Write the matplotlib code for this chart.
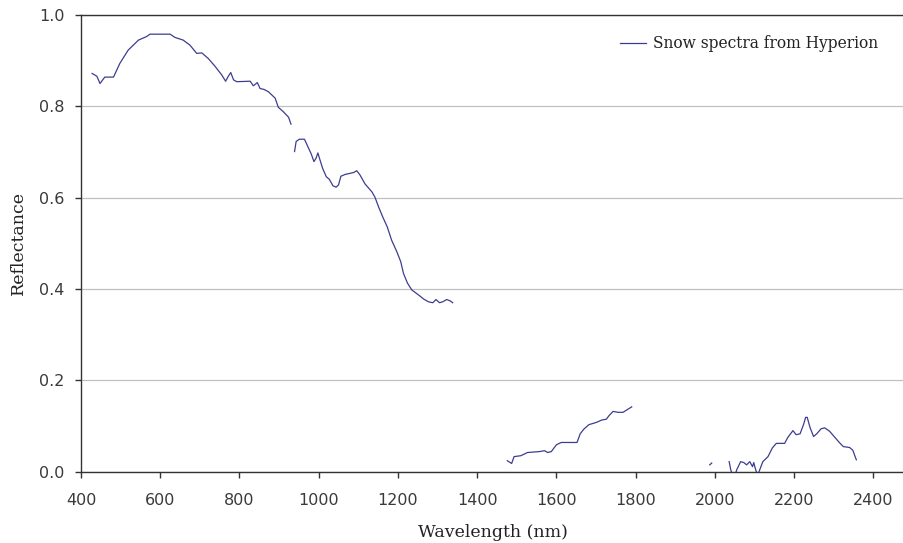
import numpy as np
import matplotlib
matplotlib.use("Agg")
import matplotlib.pyplot as plt
from matplotlib.ticker import FormatStrFormatter

nan = np.nan

# Hyperion snow spectrum, NaN marks the water absorption gaps
wavelength = [
    428, 440, 448, 460, 482, 498, 519, 545, 566, 574, 600, 625, 637, 658, 675,
    692, 705, 721, 738, 755, 765, 772, 778, 785, 793, 827, 835, 845, 852, 862,
    873, 890, 898, 911, 924, 930,
    934,
    939, 943, 951, 964, 971, 981, 988, 993, 998, 1002, 1010, 1019, 1027, 1036,
    1044, 1050, 1056, 1067, 1088, 1096, 1104, 1117, 1134, 1142, 1151, 1162,
    1173, 1184, 1197, 1207, 1214, 1224, 1235, 1252, 1265, 1277, 1288, 1296,
    1305, 1313, 1323, 1332, 1338,
    1400,
    1476, 1487, 1493, 1510, 1527, 1557, 1570, 1578, 1587, 1600, 1612, 1652,
    1660, 1669, 1682, 1701, 1714, 1726, 1733, 1743, 1756, 1768, 1781, 1790,
    1900,
    1987, 1992,
    2010,
    2036, 2040, 2046, 2050, 2055, 2065, 2073, 2080, 2088, 2095, 2098, 2103,
    2108, 2113, 2117, 2121, 2134, 2145, 2155, 2176, 2184, 2197, 2205, 2215,
    2224, 2229, 2233, 2240, 2249, 2257, 2268, 2277, 2289, 2302, 2314, 2324,
    2340, 2348, 2357,
]
reflectance = [
    0.872, 0.866, 0.850, 0.864, 0.864, 0.894, 0.923, 0.945, 0.953, 0.958,
    0.958, 0.958, 0.951, 0.945, 0.934, 0.916, 0.917, 0.905, 0.888, 0.869,
    0.855, 0.866, 0.874, 0.858, 0.854, 0.855, 0.845, 0.852, 0.839, 0.837,
    0.832, 0.818, 0.798, 0.788, 0.776, 0.761,
    nan,
    0.701, 0.723, 0.728, 0.728, 0.715, 0.696, 0.679, 0.686, 0.698, 0.686,
    0.664, 0.646, 0.640, 0.626, 0.623, 0.628, 0.647, 0.651, 0.655, 0.659,
    0.650, 0.630, 0.613, 0.601, 0.580, 0.557, 0.536, 0.507, 0.482, 0.460,
    0.434, 0.413, 0.398, 0.387, 0.378, 0.372, 0.370, 0.377, 0.370, 0.372,
    0.377, 0.374, 0.370,
    nan,
    0.024, 0.018, 0.033, 0.035, 0.042, 0.044, 0.046, 0.042, 0.044, 0.059,
    0.064, 0.064, 0.083, 0.093, 0.103, 0.108, 0.113, 0.115, 0.123, 0.132,
    0.130, 0.130, 0.137, 0.142,
    nan,
    0.015, 0.019,
    nan,
    0.022, 0.004, -0.010, -0.010, 0.004, 0.022, 0.020, 0.015, 0.022, 0.011,
    0.020, 0.004, -0.008, 0.004, 0.013, 0.022, 0.033, 0.052, 0.062, 0.062,
    0.075, 0.090, 0.081, 0.083, 0.104, 0.119, 0.119, 0.097, 0.077, 0.083,
    0.094, 0.096, 0.089, 0.076, 0.064, 0.055, 0.053, 0.047, 0.026,
]

x_ticks = list(range(400, 2401, 200))
y_ticks = [0.0, 0.2, 0.4, 0.6, 0.8, 1.0]

fig = plt.figure(figsize=(9.04, 5.43), dpi=100)
ax = fig.add_axes([81 / 904, 1 - 471.7 / 543, 832 / 904, 456.7 / 543])

ax.plot(wavelength, reflectance, color="#3d3d90", lw=0.9,
        label="Snow spectra from Hyperion")

ax.set_xlim(400, 2500)
ax.set_ylim(0, 1.0)
ax.set_xticks(x_ticks)
ax.set_yticks(y_ticks)
ax.yaxis.set_major_formatter(FormatStrFormatter("%.1f"))

ax.grid(axis="y", color="#c0c0c0", lw=0.9)
ax.set_axisbelow(True)
ax.spines["right"].set_visible(False)
for s in ["left", "bottom", "top"]:
    ax.spines[s].set_color("#333333")
    ax.spines[s].set_linewidth(1.0)

ax.tick_params(axis="both", direction="out", length=4, width=1.0,
               color="#333333", labelcolor="#3a3a3a", labelsize=11.5)
ax.tick_params(axis="x", pad=11)
ax.tick_params(axis="y", pad=8)

ax.set_xlabel("Wavelength (nm)", family="DejaVu Serif", fontsize=12.5,
              color="#222222", va="center")
ax.xaxis.set_label_coords(0.495, -0.134)
ax.set_ylabel("Reflectance", family="DejaVu Serif", fontsize=12.5,
              color="#222222", va="center")
ax.yaxis.set_label_coords(-0.0751, 0.5)

leg = ax.legend(loc="center left", bbox_to_anchor=(620 / 904, 1 - 44 / 543),
                bbox_transform=fig.transFigure, frameon=False, borderpad=0,
                borderaxespad=0, handlelength=1.65, handletextpad=0.45,
                prop={"family": "DejaVu Serif", "size": 11.2})
for t in leg.get_texts():
    t.set_color("#222222")

fig.savefig("out.png", dpi=100)
